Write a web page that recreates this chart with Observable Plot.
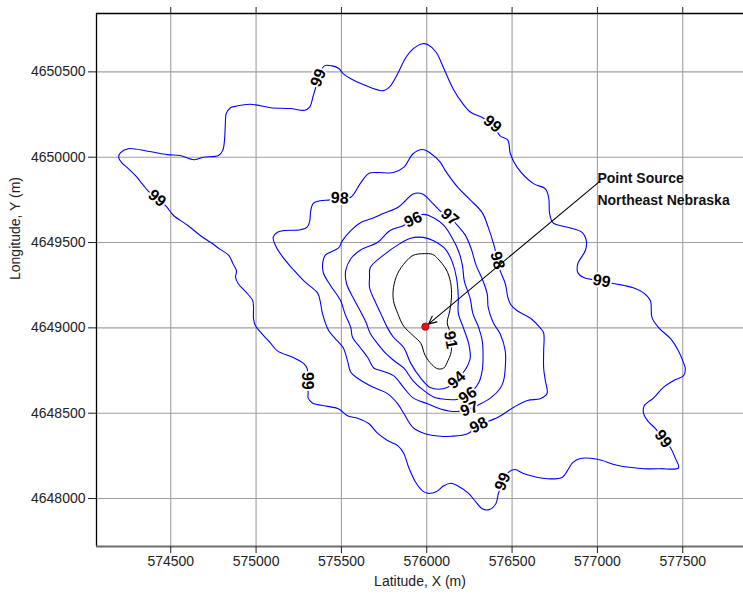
<!DOCTYPE html>
<html>
<head>
<meta charset="utf-8">
<script src="https://cdn.jsdelivr.net/npm/d3@7"></script>
<script src="https://cdn.jsdelivr.net/npm/@observablehq/plot@0.6"></script>
<style>
  html, body { margin: 0; padding: 0; background: #fff; }
  #chart svg { display: block; }
</style>
</head>
<body>
<div id="chart"></div>
<script>
// Axis extent and tick values (UTM metres)
const xDomain = [574065, 577856];
const yDomain = [4647719, 4650842];
const xTicks = [574500, 575000, 575500, 576000, 576500, 577000, 577500];
const yTicks = [4648000, 4648500, 4649000, 4649500, 4650000, 4650500];

// Contour levels, each a closed ring of [x, y] vertices
const contourLevels = [99, 98, 97, 96, 94, 91];

const ring99 = [
  [574420,4649760],[574370,4649800],[574340,4649835],[574295,4649890],[574250,4649935],
  [574215,4649965],[574195,4650000],[574205,4650025],[574250,4650050],[574365,4650035],
  [574480,4650015],[574555,4650010],[574635,4649985],[574690,4650000],[574780,4650010],
  [574805,4650040],[574815,4650100],[574820,4650195],[574825,4650255],[574850,4650290],
  [574865,4650295],[574965,4650310],[575085,4650290],[575200,4650285],[575285,4650275],
  [575315,4650295],[575335,4650360],[575350,4650410],[575365,4650465],[575400,4650535],
  [575445,4650535],[575485,4650520],[575510,4650490],[575555,4650460],[575630,4650425],
  [575745,4650390],[575785,4650415],[575830,4650490],[575875,4650580],[575920,4650635],
  [575975,4650665],[576005,4650660],[576055,4650615],[576100,4650520],[576155,4650400],
  [576210,4650315],[576255,4650265],[576330,4650230],[576385,4650195],[576430,4650125],
  [576475,4650100],[576490,4650020],[576530,4649940],[576625,4649845],[576695,4649815],
  [576715,4649760],[576720,4649670],[576740,4649615],[576825,4649590],[576910,4649560],
  [576935,4649510],[576930,4649455],[576885,4649375],[576885,4649325],[576920,4649295],
  [577025,4649275],[577095,4649260],[577210,4649235],[577270,4649205],[577310,4649160],
  [577320,4649060],[577360,4649000],[577430,4648935],[577475,4648865],[577505,4648795],
  [577515,4648760],[577505,4648720],[577445,4648690],[577385,4648650],[577330,4648590],
  [577275,4648545],[577270,4648500],[577295,4648455],[577340,4648410],[577385,4648350],
  [577430,4648295],[577455,4648240],[577475,4648180],[577370,4648175],[577270,4648175],
  [577115,4648195],[577000,4648230],[576900,4648235],[576855,4648210],[576825,4648165],
  [576795,4648125],[576725,4648115],[576645,4648125],[576570,4648145],[576515,4648170],
  [576475,4648150],[576445,4648095],[576420,4648030],[576405,4647970],[576365,4647935],
  [576325,4647940],[576280,4647990],[576245,4648030],[576180,4648075],[576140,4648090],
  [576100,4648075],[576055,4648040],[576010,4648030],[575975,4648045],[575935,4648095],
  [575895,4648180],[575865,4648265],[575830,4648310],[575770,4648340],[575710,4648385],
  [575660,4648440],[575595,4648470],[575535,4648485],[575485,4648525],[575420,4648540],
  [575330,4648560],[575305,4648590],[575305,4648620],[575300,4648690],[575300,4648760],
  [575280,4648790],[575220,4648825],[575125,4648865],[575085,4648910],[575035,4648965],
  [574995,4649015],[574985,4649055],[574985,4649120],[574980,4649160],[574950,4649200],
  [574895,4649260],[574880,4649295],[574885,4649335],[574865,4649375],[574840,4649425],
  [574790,4649460],[574735,4649500],[574675,4649540],[574600,4649600],[574515,4649660],
  [574475,4649710]
];

const ring98 = [
  [575490,4649760],[575555,4649765],[575610,4649845],[575660,4649905],[575715,4649910],
  [575805,4649910],[575865,4649940],[575920,4650020],[575975,4650045],[576020,4650025],
  [576080,4649970],[576110,4649920],[576185,4649820],[576255,4649750],[576325,4649675],
  [576360,4649590],[576395,4649480],[576415,4649395],[576430,4649335],[576460,4649260],
  [576475,4649180],[576490,4649140],[576530,4649100],[576610,4649055],[576665,4649000],
  [576685,4648970],[576685,4648865],[576685,4648765],[576695,4648690],[576705,4648615],
  [576665,4648585],[576590,4648575],[576510,4648535],[576415,4648475],[576305,4648430],
  [576240,4648380],[576140,4648365],[576080,4648365],[575990,4648380],[575920,4648415],
  [575865,4648500],[575830,4648555],[575770,4648615],[575690,4648650],[575595,4648705],
  [575555,4648740],[575535,4648810],[575510,4648885],[575475,4648925],[575425,4648985],
  [575390,4649080],[575375,4649160],[575360,4649205],[575280,4649275],[575215,4649345],
  [575160,4649410],[575115,4649480],[575100,4649530],[575125,4649560],[575160,4649570],
  [575260,4649575],[575300,4649590],[575315,4649630],[575320,4649685],[575335,4649730],
  [575375,4649745],[575435,4649750]
];

const ring97 = [
  [576135,4649650],[576180,4649600],[576225,4649545],[576260,4649465],[576290,4649365],
  [576330,4649275],[576355,4649195],[576360,4649120],[576390,4649030],[576430,4648965],
  [576460,4648865],[576460,4648765],[576450,4648690],[576430,4648645],[576375,4648590],
  [576325,4648560],[576250,4648525],[576175,4648510],[576080,4648525],[576005,4648555],
  [575920,4648590],[575865,4648650],[575805,4648720],[575730,4648750],[575690,4648765],
  [575655,4648825],[575610,4648885],[575565,4648945],[575555,4649000],[575520,4649085],
  [575495,4649160],[575435,4649250],[575395,4649320],[575390,4649375],[575405,4649425],
  [575485,4649470],[575505,4649510],[575555,4649570],[575610,4649615],[575690,4649645],
  [575745,4649670],[575830,4649705],[575875,4649745],[575920,4649785],[575975,4649785],
  [576035,4649730],[576090,4649675]
];

const ring96 = [
  [575920,4649635],[575980,4649665],[576040,4649645],[576100,4649600],[576150,4649525],
  [576190,4649440],[576210,4649360],[576220,4649275],[576255,4649170],[576270,4649085],
  [576305,4649000],[576325,4648925],[576330,4648825],[576325,4648750],[576305,4648680],
  [576240,4648605],[576175,4648580],[576080,4648585],[576040,4648595],[575980,4648635],
  [575920,4648690],[575865,4648765],[575805,4648810],[575760,4648850],[575710,4648910],
  [575670,4648965],[575645,4649030],[575610,4649100],[575575,4649165],[575530,4649260],
  [575525,4649335],[575555,4649405],[575610,4649455],[575710,4649500],[575785,4649570],
  [575865,4649600]
];

const ring94 = [
  [575980,4649530],[576040,4649510],[576110,4649460],[576150,4649385],[576175,4649290],
  [576185,4649180],[576185,4649085],[576215,4649000],[576245,4648910],[576255,4648825],
  [576240,4648780],[576215,4648740],[576175,4648695],[576120,4648650],[576070,4648640],
  [576020,4648650],[575965,4648705],[575905,4648795],[575865,4648885],[575805,4648945],
  [575770,4649000],[575730,4649085],[575695,4649160],[575665,4649235],[575665,4649295],
  [575670,4649355],[575745,4649425],[575845,4649495],[575905,4649525]
];

const ring91 = [
  [576065,4649405],[576115,4649340],[576140,4649265],[576145,4649180],[576135,4649100],
  [576120,4649030],[576135,4648980],[576140,4648930],[576145,4648880],[576140,4648845],
  [576125,4648810],[576100,4648765],[576065,4648760],[576030,4648785],[575990,4648840],
  [575965,4648910],[575920,4648955],[575865,4649010],[575830,4649085],[575805,4649160],
  [575805,4649235],[575830,4649320],[575875,4649385],[575920,4649425],[575985,4649435],
  [576035,4649430]
];

const rings = [ring99, ring98, ring97, ring96, ring94, ring91];

// Contour labels: level, location and text angle
const labelText  = ["99","99","99","99","99","99","99","98","98","98","97","97","96","96","94","91"];
const labelX     = [574420,575365,576385,577025,577385,576445,575300,575490,576415,576305,576135,576250,575920,576240,576175,576140];
const labelY     = [4649760,4650465,4650195,4649275,4648350,4648100,4648690,4649760,4649395,4648430,4649650,4648525,4649635,4648605,4648695,4648930];
const labelAngle = [40,-68,40,10,53,-68,90,3,75,-28,40,-20,-25,-35,-42,80];

// Point source and its annotation
const sourcePoint = [575992, 4649007];
const arrowTail = [577012, 4649857];
const noteText = "Point Source\nNortheast Nebraska";
const notePoint = [577000, 4649942];

// Flatten rings into rows for Plot.line
const contourRows = contourLevels.flatMap((level, i) =>
  rings[i].map(([x, y]) => ({level, x, y}))
);
const blueRows = contourRows.filter(d => d.level !== 91);
const innerRows = contourRows.filter(d => d.level === 91);
const labelRows = labelText.map((t, i) => ({text: t, x: labelX[i], y: labelY[i], angle: labelAngle[i]}));

const font = "'Liberation Sans', Arial, Helvetica, sans-serif";

const chart = Plot.plot({
  width: 743,
  height: 596,
  marginLeft: 96,
  marginRight: 0,
  marginTop: 13,
  marginBottom: 50,
  style: {fontFamily: font, fontSize: "14px", background: "#fff", color: "#222"},
  x: {domain: xDomain},
  y: {domain: yDomain},
  marks: [
    Plot.gridX(xTicks, {stroke: "#a0a0a0", strokeOpacity: 1, strokeWidth: 1.1}),
    Plot.gridY(yTicks, {stroke: "#a0a0a0", strokeOpacity: 1, strokeWidth: 1.1}),
    Plot.line(blueRows, {x: "x", y: "y", z: "level", stroke: "#0000ff", strokeWidth: 1.1, curve: "catmull-rom-closed"}),
    Plot.line(innerRows, {x: "x", y: "y", z: "level", stroke: "#000", strokeWidth: 1, curve: "catmull-rom-closed"}),
    Plot.text(labelRows, {
      x: "x", y: "y", text: "text", rotate: "angle",
      fontSize: 16, fontWeight: "bold", fill: "#000",
      stroke: "#fff", strokeWidth: 3.5
    }),
    Plot.arrow([0], {
      x1: () => arrowTail[0], y1: () => arrowTail[1],
      x2: () => sourcePoint[0], y2: () => sourcePoint[1],
      stroke: "#000", strokeWidth: 1.1, headLength: 12, headAngle: 50, insetEnd: 4
    }),
    Plot.dot([sourcePoint], {x: d => d[0], y: d => d[1], r: 3.6, fill: "#e8141b", stroke: "#8a0000", strokeWidth: 0.8}),
    Plot.text([noteText], {
      x: () => notePoint[0], y: () => notePoint[1], text: d => d,
      textAnchor: "start", lineAnchor: "top", lineHeight: 1.6,
      fontSize: 14, fontWeight: "bold", fill: "#111"
    }),
    Plot.ruleX([xDomain[0]], {stroke: "#000", strokeWidth: 1.3}),
    Plot.ruleY([yDomain[1]], {stroke: "#000", strokeWidth: 1.3}),
    Plot.ruleY([yDomain[0]], {stroke: "#6e6e6e", strokeWidth: 1.8}),
    Plot.axisX(xTicks, {anchor: "bottom", tickSize: 7, tickPadding: 3, fontSize: 14, label: null, tickFormat: d => String(d)}),
    Plot.axisX(xTicks, {anchor: "top", tickSize: 7, tickFormat: () => "", label: null}),
    Plot.axisY(yTicks, {anchor: "left", tickSize: 8, tickPadding: 3, fontSize: 14, label: null, tickFormat: d => String(d)}),
    Plot.text(["Latitude, X (m)"], {frameAnchor: "bottom", dy: 39, text: d => d, fontSize: 14, fill: "#222"}),
    Plot.text(["Longitude, Y (m)"], {frameAnchor: "left", dx: -81, rotate: -90, text: d => d, fontSize: 14, fill: "#222"})
  ]
});

document.getElementById("chart").appendChild(chart);
</script>
</body>
</html>
